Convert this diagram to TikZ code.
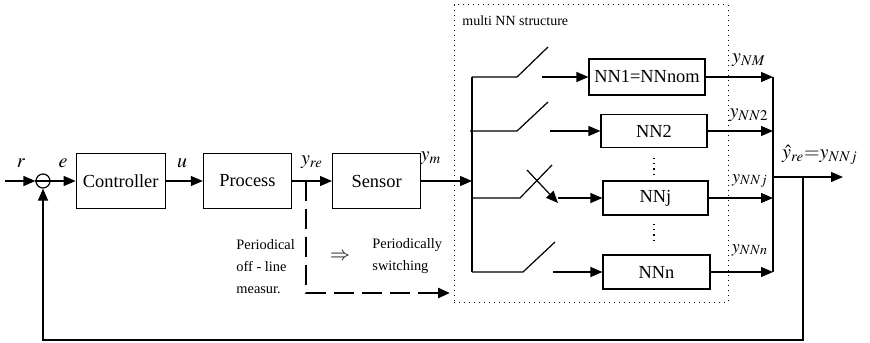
\documentclass[tikz,border=0pt]{standalone}
\usepackage{mathptmx}
\usepackage{fontspec}
\setmainfont{Liberation Serif}
\newfontfamily\diagfont{Liberation Serif}
\usetikzlibrary{arrows.meta,positioning,calc}

\begin{document}
\begin{tikzpicture}[
	x=0.5pt, y=-0.5pt,
	node distance=10pt and 18.5pt,
	box/.style={draw, line width=0.6pt, inner sep=0pt, minimum height=27.5pt, minimum width=44pt, font=\diagfont\fontsize{9.2}{11}\selectfont},
	nnbox/.style={draw, line width=0.6pt, inner sep=0pt, minimum height=17pt, font=\diagfont\fontsize{9.2}{11}\selectfont},
	arrow/.style={-{Triangle[length=6pt,width=5pt]}, line width=0.6pt},
	wire/.style={line width=0.6pt},
	note/.style={align=left, inner sep=0pt, font=\diagfont\fontsize{7.2}{11}\selectfont},
	lbl/.style={inner sep=0pt, font=\fontsize{10}{12}\selectfont}
]
\useasboundingbox (0,0) rectangle (870,342);

% main loop
\node[draw, circle, line width=0.6pt, minimum size=7pt, inner sep=0pt] (sum) at (43,181) {};
\node[box, minimum width=44.5pt, right=12.5pt of sum] (ctrl) {Controller};
\node[box, right=18.5pt of ctrl] (proc) {Process};
\node[box, right=20pt of proc] (sens) {Sensor};
\coordinate (in) at (5,181);
\coordinate (bus) at (472,181);
\draw[wire] (sum.west) -- (sum.east);
\draw[arrow] (in) -- (sum);
\draw[arrow] (sum) -- (ctrl);
\draw[arrow] (ctrl) -- (proc);
\draw[arrow] (proc) -- (sens);
\draw[arrow] (sens) -- (bus);

\node[lbl] (r) at (21,163) {$r$};
\node[lbl] (e) at (63,163) {$e$};
\node[lbl] (u) at (182,163) {$u$};
\node[lbl] (yre) at (312,162) {$y_{re}$};
\node[lbl] (ym) at (431,158) {$y_m$};

% off-line measurement
\coordinate (tap) at (306,181);
\coordinate (corner) at (306,293);
\coordinate (dend) at (450,293);
\draw[arrow, line width=1.3pt, dash pattern=on 10pt off 4pt] (tap) -- (corner) -- (dend);
\node[note, anchor=west] (meas) at (236,267) {Periodical\\off - line\\measur.};
\node[lbl] (impl) at (340,257) {$\Rightarrow$};
\node[note, anchor=west] (swit) at (372,256) {Periodically\\switching};

% multi NN structure
\node[draw, dotted, line width=0.5pt, minimum width=137pt, minimum height=148.5pt, inner sep=0pt] (multi) at (591,153.5) {};
\node[note, anchor=west, font=\diagfont\fontsize{7}{9}\selectfont] (mtitle) at (462,21) {multi NN structure};

\node[nnbox, minimum width=58pt, minimum height=18pt] (nn1) at (647,77) {NN1=NNnom};
\node[nnbox, minimum width=53pt, minimum height=16.5pt] (nn2) at (654,131) {NN2};
\node[nnbox, minimum width=52.5pt] (nnj) at (655.5,198) {NNj};
\node[nnbox, minimum width=53.5pt] (nnn) at (656.5,272) {NNn};

\draw[wire] (472,77) -- (472,272);
% switches
\draw[wire] (472,77) -- (517,77) -- (548,47);
\draw[arrow] (542,77) -- (nn1);
\draw[wire] (470,131) -- (517,131) -- (548,102);
\draw[arrow] (550,131) -- (nn2);
\draw[wire] (472,198) -- (520,198) -- (552,165);
\draw[arrow] (527,170) -- (558,203);
\draw[arrow] (558,198) -- (nnj);
\draw[wire] (472,272) -- (523,272) -- (555,242);
\draw[arrow] (553,272) -- (nnn);

\draw[wire, dotted] (654,158) -- (654,175);
\draw[wire, dotted] (654,224) -- (654,242);

% outputs
\coordinate (o1) at (773,77);
\coordinate (o2) at (773,131);
\coordinate (oj) at (773,198);
\coordinate (on) at (773,272);
\draw[arrow] (nn1) -- (o1);
\draw[arrow] (nn2) -- (o2);
\draw[arrow] (nnj) -- (oj);
\draw[arrow] (nnn) -- (on);
\draw[wire] (o1) -- (on);
\node[lbl] (y1) at (749,60) {$y_{NM}$};
\node[lbl] (y2) at (749,115) {$y_{NN2}$};
\node[lbl, font=\fontsize{9}{11}\selectfont] (yj) at (750,181) {$y_{NNj}$};
\node[lbl, font=\fontsize{9}{11}\selectfont] (yn) at (750,250) {$y_{NNn}$};

\coordinate (join) at (773,177);
\coordinate (out) at (843,177);
\coordinate (fb) at (803,177);
\coordinate (fbd) at (803,340);
\coordinate (fbl) at (43,340);
\draw[arrow] (join) -- (out);
\node[lbl] (yhat) at (820,155) {$\hat{y}_{re}{=}y_{NNj}$};
\draw[arrow] (fb) -- (fbd) -- (fbl) -- (sum.south);
\end{tikzpicture}
\end{document}
